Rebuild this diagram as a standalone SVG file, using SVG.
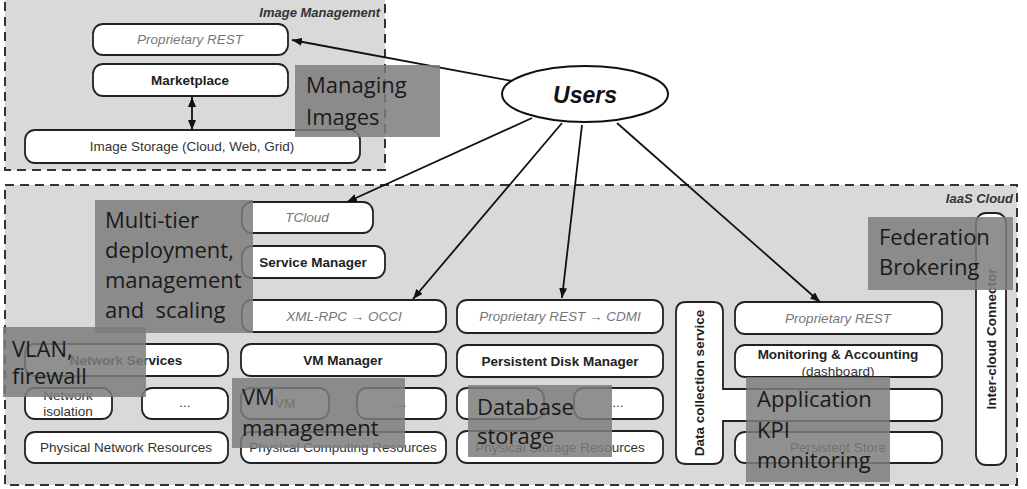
<svg xmlns="http://www.w3.org/2000/svg" width="1027" height="489" viewBox="0 0 1027 489">
<defs>
<style>
.grp{fill:#d9d9d9;stroke:#333;stroke-width:2;stroke-dasharray:9 6}
.box{fill:#fff;stroke:#222;stroke-width:1.8}
.t{font-family:"Liberation Sans",Arial,sans-serif;font-size:13.5px;fill:#333;text-anchor:middle}
.b{font-weight:bold;fill:#222}
.i{font-style:italic;fill:#777}
.gl{font-family:"Liberation Sans",Arial,sans-serif;font-size:13px;font-weight:bold;font-style:italic;fill:#333;text-anchor:end}
.ov{fill:#7c7c7c;fill-opacity:0.85}
.ot{font-family:"Open Sans",sans-serif;font-size:22px;fill:#1a1a1a}
.ln{stroke:#111;stroke-width:1.8;fill:none}
</style>
<marker id="ah" viewBox="0 0 10 8" refX="10" refY="4" markerWidth="10" markerHeight="8" markerUnits="userSpaceOnUse" orient="auto-start-reverse">
<path d="M0,0 L10,4 L0,8 Z" fill="#111"/>
</marker>
</defs>
<rect width="1027" height="489" fill="#fff"/>

<g id="image-management">
<rect class="grp" x="5" y="-6" width="380" height="176"/>
<text class="gl" x="380" y="17">Image Management</text>
</g>
<g id="iaas-cloud">
<rect class="grp" x="5" y="185" width="1012" height="300"/>
<text class="gl" x="1013" y="203">IaaS Cloud</text>
</g>

<g id="img-rest"><rect class="box" x="93" y="24" width="195" height="31" rx="10"/><text class="t i" x="190" y="44">Proprietary REST</text></g>
<g id="marketplace"><rect class="box" x="93" y="64" width="195" height="32" rx="10"/><text class="t b" x="190" y="85">Marketplace</text></g>
<g id="image-storage"><rect class="box" x="25" y="130" width="335" height="33" rx="10"/><text class="t" x="192" y="151">Image Storage (Cloud, Web, Grid)</text></g>

<g id="users"><ellipse cx="585" cy="94" rx="83" ry="28" fill="#fff" stroke="#111" stroke-width="2"/><text x="585" y="103" font-family="Liberation Sans,Arial,sans-serif" font-size="23" font-weight="bold" font-style="italic" fill="#111" text-anchor="middle">Users</text></g>

<g id="network-services"><rect class="box" x="25" y="344" width="203" height="32" rx="10"/><text class="t b" x="126" y="365">Network Services</text></g>
<g id="network-isolation"><rect class="box" x="25" y="388" width="87" height="31" rx="10"/><text class="t" x="68" y="400" font-size="12.5">Network</text><text class="t" x="68" y="416" font-size="12.5">isolation</text></g>
<g id="net-more"><rect class="box" x="142" y="388" width="86" height="31" rx="10"/><text class="t" x="185" y="407">...</text></g>
<g id="physical-network"><rect class="box" x="25" y="432" width="203" height="31" rx="10"/><text class="t" x="126" y="452">Physical Network Resources</text></g>

<g id="tcloud"><rect class="box" x="242" y="202" width="131" height="31" rx="10"/><text class="t i" x="307" y="222">TCloud</text></g>
<g id="service-manager"><rect class="box" x="242" y="246" width="143" height="32" rx="10"/><text class="t b" x="313" y="267">Service Manager</text></g>
<g id="xmlrpc-occi"><rect class="box" x="242" y="300" width="204" height="32" rx="10"/><text class="t i" x="344" y="321">XML-RPC → OCCI</text></g>
<g id="vm-manager"><rect class="box" x="241" y="344" width="205" height="32" rx="10"/><text class="t b" x="343" y="365">VM Manager</text></g>
<g id="vm"><rect class="box" x="241" y="388" width="88" height="31" rx="10"/><text class="t" x="285" y="408">VM</text></g>
<g id="vm-more"><rect class="box" x="357" y="388" width="89" height="31" rx="10"/><text class="t" x="401" y="407">...</text></g>
<g id="physical-computing"><rect class="box" x="241" y="432" width="205" height="31" rx="10"/><text class="t" x="343" y="452">Physical Computing Resources</text></g>

<g id="rest-cdmi"><rect class="box" x="457" y="300" width="206" height="33" rx="10"/><text class="t i" x="560" y="321">Proprietary REST → CDMI</text></g>
<g id="persistent-disk"><rect class="box" x="457" y="345" width="206" height="32" rx="10"/><text class="t b" x="560" y="366">Persistent Disk Manager</text></g>
<g id="disk-a"><rect class="box" x="457" y="388" width="87" height="31" rx="10"/></g>
<g id="disk-more"><rect class="box" x="574" y="388" width="89" height="31" rx="10"/><text class="t" x="618" y="407">...</text></g>
<g id="physical-storage"><rect class="box" x="457" y="431" width="206" height="32" rx="10"/><text class="t" x="560" y="452">Physical Storage Resources</text></g>

<g id="data-collection">
<path class="box" d="M686 302 H713 Q723 302 723 312 V389 H932 Q942 389 942 399 V411 Q942 421 932 421 H723 V454 Q723 464 713 464 H686 Q676 464 676 454 V312 Q676 302 686 302 Z"/>
<text class="t b" transform="translate(704 383) rotate(-90)">Data collection service</text>
</g>
<g id="mon-rest"><rect class="box" x="735" y="302" width="207" height="32" rx="10"/><text class="t i" x="838" y="323">Proprietary REST</text></g>
<g id="monitoring"><rect class="box" x="735" y="345" width="207" height="32" rx="10"/><text class="t b" x="838" y="359">Monitoring &amp; Accounting</text><text class="t" x="838" y="376" font-size="12.5">(dashboard)</text></g>
<g id="persistent-store"><rect class="box" x="735" y="432" width="207" height="31" rx="10"/><text class="t" x="838" y="452" fill="#bbb">Persistent Store</text></g>
<g id="inter-cloud"><rect class="box" x="976" y="213" width="30" height="252" rx="10"/><text class="t b" transform="translate(996 339) rotate(-90)">Inter-cloud Connector</text></g>

<g id="connectors">
<line class="ln" x1="512" y1="81" x2="292" y2="40" marker-end="url(#ah)"/>
<line class="ln" x1="532" y1="118" x2="347" y2="202" marker-end="url(#ah)"/>
<line class="ln" x1="562" y1="123" x2="413" y2="299" marker-end="url(#ah)"/>
<line class="ln" x1="582" y1="125" x2="562" y2="298" marker-end="url(#ah)"/>
<line class="ln" x1="617" y1="123" x2="820" y2="302" marker-end="url(#ah)"/>
<line class="ln" x1="192" y1="97" x2="192" y2="130" marker-start="url(#ah)" marker-end="url(#ah)"/>
</g>

<g id="annotations">
<rect class="ov" x="295" y="65" width="145" height="72"/>
<text class="ot" x="306" y="93">Managing</text><text class="ot" x="306" y="125">Images</text>
<rect class="ov" x="95" y="200" width="158" height="133"/>
<text class="ot" x="105" y="228">Multi-tier</text><text class="ot" x="105" y="258">deployment,</text><text class="ot" x="105" y="288">management</text><text class="ot" x="105" y="318">and&#160; scaling</text>
<rect class="ov" x="3" y="327" width="143" height="70"/>
<text class="ot" x="12" y="357">VLAN,</text><text class="ot" x="12" y="384">firewall</text>
<rect class="ov" x="232" y="378" width="173" height="70"/>
<text class="ot" x="242" y="405">VM</text><text class="ot" x="242" y="436">management</text>
<rect class="ov" x="468" y="385" width="144" height="72"/>
<text class="ot" x="477" y="415">Database</text><text class="ot" x="477" y="444">storage</text>
<rect class="ov" x="746" y="377" width="144" height="105"/>
<text class="ot" x="757" y="407">Application</text><text class="ot" x="757" y="438">KPI</text><text class="ot" x="757" y="468">monitoring</text>
<rect class="ov" x="868" y="217" width="145" height="73"/>
<text class="ot" x="879" y="245">Federation</text><text class="ot" x="879" y="275">Brokering</text>
</g>
</svg>
